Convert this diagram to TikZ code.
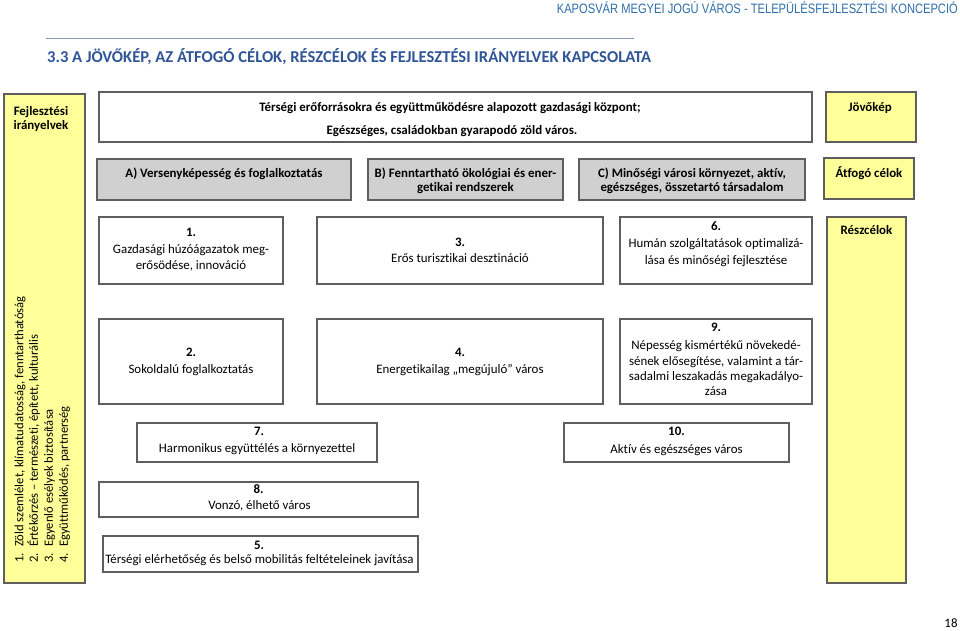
\documentclass[tikz,border=0pt]{standalone}
\usepackage{fontspec}
\setmainfont{Carlito}[Ligatures=CommonOff]
\newfontfamily\hdrfont[FakeStretch=0.82]{Liberation Sans}
\definecolor{yellowfill}{HTML}{FFFF99}
\definecolor{grayfill}{HTML}{D0D0D0}
\definecolor{bordercol}{HTML}{5E5E5E}
\definecolor{titleblue}{HTML}{2F5597}
\definecolor{headerblue}{HTML}{2E6DA8}
\definecolor{linecol}{HTML}{8A9AB0}
\tikzset{
  boxbase/.style={draw=bordercol, line width=1.1pt, inner sep=0pt, outer sep=0pt},
  whitebox/.style={boxbase, fill=white},
  graybox/.style={boxbase, fill=grayfill},
  yellowbox/.style={boxbase, fill=yellowfill},
  txt/.style={inner sep=0pt, font=\fontsize{12.9}{15}\selectfont, anchor=mid},
  btxt/.style={txt, font=\fontsize{12.9}{15}\selectfont\bfseries},
  rtxt/.style={inner sep=0pt, font=\fontsize{12.6}{15}\selectfont, rotate=90},
}
\begin{document}
\begin{tikzpicture}[x=1pt,y=-1pt]
\useasboundingbox (0,0) rectangle (960,631);
% header
\node[inner sep=0pt, anchor=mid east, font=\hdrfont\fontsize{13.6}{15}\selectfont, text=headerblue] (hdr) at (958,11) {KAPOSVÁR MEGYEI JOGÚ VÁROS - TELEPÜLÉSFEJLESZTÉSI KONCEPCIÓ};
\coordinate (l1) at (46,39);
\coordinate (l2) at (634,39);
\draw[linecol, line width=1pt] (l1) -- (l2);
\node[inner sep=0pt, anchor=mid west, font=\fontsize{16.6}{18}\selectfont\bfseries, text=titleblue] (title) at (47,60) {3.3 A JÖVŐKÉP, AZ ÁTFOGÓ CÉLOK, RÉSZCÉLOK ÉS FEJLESZTÉSI IRÁNYELVEK KAPCSOLATA};
% boxes
\node[yellowbox, minimum width=81, minimum height=489] (L) at (44.5,338.5) {};
\node[whitebox, minimum width=713, minimum height=50] (T) at (455.5,117) {};
\node[yellowbox, minimum width=90, minimum height=50] (J) at (871,117) {};
\node[graybox, minimum width=254, minimum height=41] (A) at (224,179.5) {};
\node[graybox, minimum width=195, minimum height=41] (B) at (465.5,179.5) {};
\node[graybox, minimum width=226, minimum height=41] (C) at (692,179.5) {};
\node[yellowbox, minimum width=90, minimum height=41] (AT) at (869,178.5) {};
\node[whitebox, minimum width=184, minimum height=67] (b1) at (191,250.5) {};
\node[whitebox, minimum width=286, minimum height=67] (b3) at (460,250.5) {};
\node[whitebox, minimum width=192, minimum height=67] (b6) at (716,250.5) {};
\node[yellowbox, minimum width=79, minimum height=366] (R) at (866.5,400) {};
\node[whitebox, minimum width=184, minimum height=85] (b2) at (191,361.5) {};
\node[whitebox, minimum width=286, minimum height=85] (b4) at (460,361.5) {};
\node[whitebox, minimum width=192, minimum height=85] (b9) at (716,361.5) {};
\node[whitebox, minimum width=240, minimum height=39] (b7) at (257,442.5) {};
\node[whitebox, minimum width=225, minimum height=39] (b10) at (676.5,442.5) {};
\node[whitebox, minimum width=319, minimum height=35] (b8) at (258.5,499.5) {};
\node[whitebox, minimum width=315, minimum height=36] (b5) at (260.5,554) {};
% texts
\node[btxt] (Lt1) at (41,113) {Fejlesztési};
\node[btxt] (Lt2) at (41,127) {irányelvek};
\node[btxt] (Tt1) at (450,109.5) {Térségi erőforrásokra és együttműködésre alapozott gazdasági központ;};
\node[btxt] (Tt2) at (452,132.5) {Egészséges, családokban gyarapodó zöld város.};
\node[btxt] (Jt) at (870,109) {Jövőkép};
\node[btxt] (At) at (224,175.5) {A) Versenyképesség és foglalkoztatás};
\node[btxt] (Bt1) at (465.5,175.5) {B) Fenntartható ökológiai és ener-};
\node[btxt] (Bt2) at (465.5,189.5) {getikai rendszerek};
\node[btxt] (Ct1) at (692,175.5) {C) Minőségi városi környezet, aktív,};
\node[btxt] (Ct2) at (692,189.5) {egészséges, összetartó társadalom};
\node[btxt] (ATt) at (869,175.5) {Átfogó célok};
\node[btxt] (Rt) at (866.5,232) {Részcélok};
\node[btxt] (b1n) at (191,234) {1.};
\node[txt] (b1a) at (191,251.5) {Gazdasági húzóágazatok meg-};
\node[txt] (b1b) at (191,267.5) {erősödése, innováció};
\node[btxt] (b3n) at (460,244) {3.};
\node[txt] (b3a) at (460,260.5) {Erős turisztikai desztináció};
\node[btxt] (b6n) at (716,228.5) {6.};
\node[txt] (b6a) at (716,245.5) {Humán szolgáltatások optimalizá-};
\node[txt] (b6b) at (716,262.5) {lása és minőségi fejlesztése};
\node[btxt] (b2n) at (191,354) {2.};
\node[txt] (b2a) at (191,371.5) {Sokoldalú foglalkoztatás};
\node[btxt] (b4n) at (460,354) {4.};
\node[txt] (b4a) at (460,371.5) {Energetikailag „megújuló” város};
\node[btxt] (b9n) at (716,329) {9.};
\node[txt] (b9a) at (716,347.5) {Népesség kismértékű növekedé-};
\node[txt] (b9b) at (716,363) {sének elősegítése, valamint a tár-};
\node[txt] (b9c) at (716,378.5) {sadalmi leszakadás megakadályo-};
\node[txt] (b9d) at (716,393.5) {zása};
\node[btxt] (b7n) at (259,433) {7.};
\node[txt] (b7a) at (257,450.5) {Harmonikus együttélés a környezettel};
\node[btxt] (b10n) at (676.5,433) {10.};
\node[txt] (b10a) at (676.5,451.5) {Aktív és egészséges város};
\node[btxt] (b8n) at (258.5,491) {8.};
\node[txt] (b8a) at (259.5,507.5) {Vonzó, élhető város};
\node[btxt] (b5n) at (259,547) {5.};
\node[txt] (b5a) at (259.5,561.5) {Térségi elérhetőség és belső mobilitás feltételeinek javítása};
% rotated list
\node[rtxt, anchor=mid] (n1) at (21,558) {1.};
\node[rtxt, anchor=mid west] (r1) at (21,547) {Zöld szemlélet, klímatudatosság, fenntarthatóság};
\node[rtxt, anchor=mid] (n2) at (35.5,558) {2.};
\node[rtxt, anchor=mid west] (r2) at (35.5,547) {Értékőrzés – természeti, épített, kulturális};
\node[rtxt, anchor=mid] (n3) at (50.5,558) {3.};
\node[rtxt, anchor=mid west] (r3) at (50.5,547) {Egyenlő esélyek biztosítása};
\node[rtxt, anchor=mid] (n4) at (65.5,558) {4.};
\node[rtxt, anchor=mid west] (r4) at (65.5,547) {Együttműködés, partnerség};
% page number
\node[txt] (pg) at (951,625) {18};
\end{tikzpicture}
\end{document}
